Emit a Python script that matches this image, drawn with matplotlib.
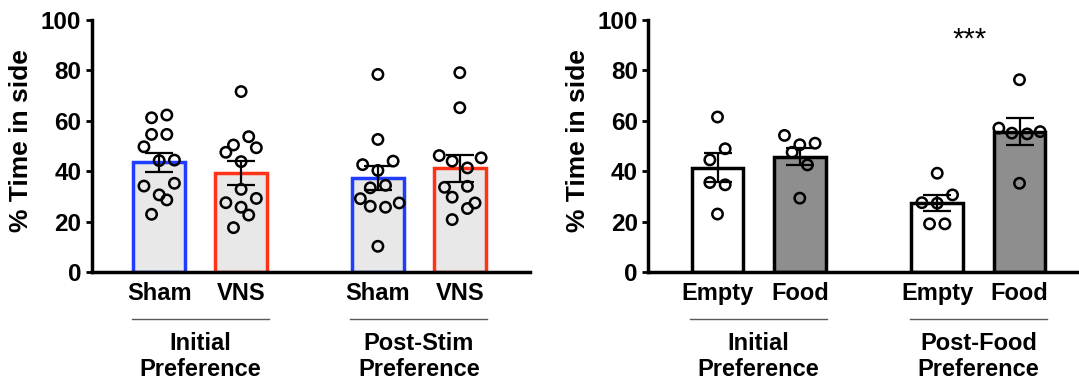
import matplotlib
matplotlib.use('Agg')
import matplotlib.pyplot as plt
from matplotlib.transforms import blended_transform_factory

plt.rcParams['font.family'] = ['Liberation Sans', 'DejaVu Sans']
plt.rcParams['font.weight'] = 'bold'

# ---------------- data ----------------
left_ticklabels = ['Sham', 'VNS', 'Sham', 'VNS']
left_groups = [['Initial', 'Preference'], ['Post-Stim', 'Preference']]
left_means = [43.6, 39.2, 37.4, 41.1]
left_sems = [3.8, 4.75, 4.7, 5.3]
sham1_pts = [61.2, 62.3, 54.6, 54.6, 49.7, 44.2, 44.4, 34.1, 35.2, 30.6, 28.6, 22.9]
vns1_pts = [71.6, 53.7, 50.4, 47.5, 49.3, 43.8, 32.8, 27.5, 29.2, 25.7, 22.6, 17.6]
sham2_pts = [78.4, 52.6, 42.6, 44.0, 40.3, 33.4, 34.4, 29.1, 26.1, 25.7, 27.4, 10.2]
vns2_pts = [79.1, 65.2, 46.2, 45.3, 44.0, 41.3, 33.6, 34.0, 29.7, 25.2, 27.4, 20.8]
sham1_jit = [-1, 1, -1, 1, -2, 0, 2, -2, 2, 0, 1, -1]
vns1_jit = [0, 1, -1, -2, 2, 0, 0, -2, 2, 0, 1, -1]
sham2_jit = [0, 0, -2, 2, 0, -1, 1, -2.3, -1, 1, 2.8, 0]
vns2_jit = [0, 0, -2.7, 2.8, -1, 1, -2, 1, -1, 1, 2, -1]

right_ticklabels = ['Empty', 'Food', 'Empty', 'Food']
right_groups = [['Initial', 'Preference'], ['Post-Food', 'Preference']]
right_means = [41.4, 45.8, 27.3, 55.7]
right_sems = [5.7, 3.5, 3.2, 5.3]
empty1_pts = [61.5, 48.9, 44.5, 35.5, 34.6, 23.0]
food1_pts = [54.2, 50.5, 51.1, 47.5, 42.5, 29.3]
empty2_pts = [39.2, 30.6, 27.5, 27.3, 19.1, 19.1]
food2_pts = [76.3, 57.1, 55.1, 54.8, 55.7, 35.2]
empty1_jit = [0, 1, -1, -1, 1, 0]
food1_jit = [-2, 0, 2, -1, 1, 0]
empty2_jit = [0, 2, -2, 0, -1, 1]
food2_jit = [0, -2.7, -1, 1, 2.7, 0]
signif_text = '***'
signif_y = 97.8

positions = [0, 1, 2.67, 3.67]

# ---------------- styling ----------------
W, H = 1079, 379
fig = plt.figure(figsize=(W / 100, H / 100), dpi=100)

y0_px, y100_px = 272, 20


def make_axes(left_px, right_px):
    return fig.add_axes([left_px / W, (H - y0_px) / H,
                         (right_px - left_px) / W, (y0_px - y100_px) / H])


def style_axes(ax, xlim, ticklabels, ylabel_x):
    ax.set_xlim(*xlim)
    ax.set_ylim(0, 100)
    for s in ['top', 'right']:
        ax.spines[s].set_visible(False)
    for s in ['left', 'bottom']:
        ax.spines[s].set_linewidth(2.5)
        ax.spines[s].set_capstyle('projecting')
    ax.set_yticks([0, 20, 40, 60, 80, 100])
    ax.tick_params(axis='y', direction='out', length=4.5, width=2.0,
                   pad=3.0, labelsize=17.5)
    ax.set_xticks(positions)
    ax.set_xticklabels(ticklabels, fontsize=17, fontweight='bold')
    ax.tick_params(axis='x', length=0, pad=7.5)
    ax.set_ylabel('% Time in side', fontsize=19, fontweight='bold')
    ax.yaxis.set_label_coords(ylabel_x, 0.52)


def draw_groups(ax, groups, bar_w):
    tr = blended_transform_factory(ax.transData, ax.transAxes)
    line_y = (y0_px - 319) / (y0_px - y100_px)
    b1 = (y0_px - 350) / (y0_px - y100_px)
    b2 = (y0_px - 375.5) / (y0_px - y100_px)
    for gi, (l1, l2) in enumerate(groups):
        xa = positions[2 * gi] - bar_w / 2 - 0.02
        xb = positions[2 * gi + 1] + bar_w / 2 + 0.02
        ax.plot([xa, xb], [line_y, line_y], color='#5a5a5a', lw=1.0,
                transform=tr, clip_on=False)
        xc = (positions[2 * gi] + positions[2 * gi + 1]) / 2
        ax.text(xc, b1, l1, transform=tr, ha='center', va='baseline',
                fontsize=17, fontweight='bold')
        ax.text(xc, b2, l2, transform=tr, ha='center', va='baseline',
                fontsize=17, fontweight='bold')


bar_w = 0.63
jit_unit = 0.093

# ---------------- left panel ----------------
axL = make_axes(91.7, 530)
style_axes(axL, (-0.824, 4.527), left_ticklabels, -0.134)
left_edges = ['#1f3cff', '#ff3318', '#1f3cff', '#ff3318']
axL.bar(positions, left_means, width=bar_w, color='#e8e8e8',
        edgecolor=left_edges, linewidth=2.5, zorder=2)
for p, pts, jit in zip(positions,
                       [sham1_pts, vns1_pts, sham2_pts, vns2_pts],
                       [sham1_jit, vns1_jit, sham2_jit, vns2_jit]):
    axL.scatter([p + j * jit_unit for j in jit], pts, s=56,
                facecolors='none', edgecolors='black', linewidths=1.8,
                zorder=3, clip_on=False)
axL.errorbar(positions, left_means, yerr=left_sems, fmt='none',
             ecolor='black', elinewidth=1.6, capsize=10, capthick=1.6,
             zorder=4)
draw_groups(axL, left_groups, bar_w)

# ---------------- right panel ----------------
axR = make_axes(648.3, 1079)
style_axes(axR, (-0.841, 4.393), right_ticklabels, -0.136)
axR.bar(positions, right_means, width=bar_w,
        color=['white', '#8e8e8e', 'white', '#8e8e8e'],
        edgecolor='black', linewidth=2.5, zorder=2)
for p, pts, jit in zip(positions,
                       [empty1_pts, food1_pts, empty2_pts, food2_pts],
                       [empty1_jit, food1_jit, empty2_jit, food2_jit]):
    axR.scatter([p + j * jit_unit for j in jit], pts, s=56,
                facecolors='none', edgecolors='black', linewidths=1.8,
                zorder=3, clip_on=False)
axR.errorbar(positions, right_means, yerr=right_sems, fmt='none',
             ecolor='black', elinewidth=1.6, capsize=10, capthick=1.6,
             zorder=4)
draw_groups(axR, right_groups, bar_w)
axR.text(3.06, signif_y, signif_text, ha='center', va='top',
         fontsize=21, fontweight='normal')

fig.savefig('out.png', dpi=100)
